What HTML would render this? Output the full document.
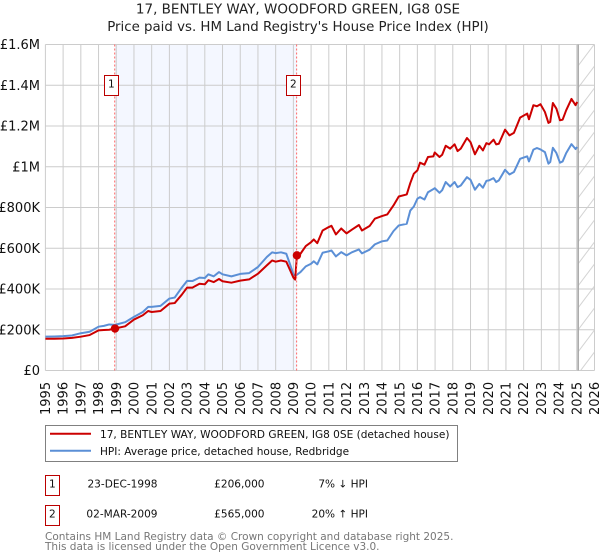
<!DOCTYPE html>
<html lang="en">
<head>
<meta charset="utf-8">
<title>17, Bentley Way price chart</title>
<style>
html,body{margin:0;padding:0;background:#fff;}
body{width:600px;height:560px;overflow:hidden;}
svg{display:block;font-family:"DejaVu Sans","Liberation Sans",sans-serif;}
</style>
</head>
<body>
<svg id="chart" xmlns="http://www.w3.org/2000/svg" width="600" height="560" viewBox="0 0 600 560">
  <defs>
    <pattern id="hatch" width="16.5" height="22" patternUnits="userSpaceOnUse" x="578" y="0">
      <line x1="0" y1="22" x2="16.5" y2="0" stroke="#d4d4d4" stroke-width="1"/>
    </pattern>
  </defs>
  <rect width="600" height="560" fill="#fff"/>
  <text x="298" y="13.5" text-anchor="middle" font-size="13.5" fill="#222">17, BENTLEY WAY, WOODFORD GREEN, IG8 0SE</text>
  <text x="298" y="31" text-anchor="middle" font-size="13.35" fill="#222">Price paid vs. HM Land Registry's House Price Index (HPI)</text>
  <g id="bands"></g>
  <g id="grid"></g>
  <g id="series"></g>
  <g id="sales"></g>
  <g id="ticks"></g>

  <g>
    <rect x="45.5" y="425.5" width="412" height="36" fill="#fff" stroke="#808080" stroke-width="1"/>
    <line x1="50" y1="433.8" x2="91" y2="433.8" stroke="#cc0000" stroke-width="2"/>
    <text x="100" y="437.8" font-size="10.55" fill="#111">17, BENTLEY WAY, WOODFORD GREEN, IG8 0SE (detached house)</text>
    <line x1="50" y1="450.8" x2="91" y2="450.8" stroke="#5b8fd6" stroke-width="2"/>
    <text x="100" y="454.8" font-size="10.55" fill="#111">HPI: Average price, detached house, Redbridge</text>
  </g>

  <g font-size="10.55" fill="#111">
    <rect x="45.5" y="475.5" width="14" height="20" fill="#fff" stroke="#bb0000" stroke-width="1"/>
    <text x="52.3" y="487.3" text-anchor="middle">1</text>
    <text x="157.5" y="487.3" text-anchor="end">23-DEC-1998</text>
    <text x="264.5" y="487.3" text-anchor="end">£206,000</text>
    <text x="368" y="487.3" text-anchor="end">7% ↓ HPI</text>
  </g>
  <g font-size="10.55" fill="#111">
    <rect x="45.5" y="505.5" width="14" height="20" fill="#fff" stroke="#bb0000" stroke-width="1"/>
    <text x="52.3" y="517.3" text-anchor="middle">2</text>
    <text x="157.5" y="517.3" text-anchor="end">02-MAR-2009</text>
    <text x="264.5" y="517.3" text-anchor="end">£565,000</text>
    <text x="368" y="517.3" text-anchor="end">20% ↑ HPI</text>
  </g>
  <text x="45" y="540" font-size="10.5" fill="#777">Contains HM Land Registry data © Crown copyright and database right 2025.</text>
  <text x="45" y="550" font-size="10.5" fill="#777">This data is licensed under the Open Government Licence v3.0.</text>
</svg>
<script>
const yearTicks = [1995,1996,1997,1998,1999,2000,2001,2002,2003,2004,2005,2006,2007,2008,2009,2010,2011,2012,2013,2014,2015,2016,2017,2018,2019,2020,2021,2022,2023,2024,2025,2026];
const priceTicks = [0,200,400,600,800,1000,1200,1400,1600];
const priceTickLabels = ['£0','£200K','£400K','£600K','£800K','£1M','£1.2M','£1.4M','£1.6M'];
const dates = [1995,1995.5,1996,1996.5,1997,1997.5,1998,1998.3,1998.6,1998.93,1999.5,2000,2000.5,2000.8,2001,2001.5,2002,2002.3,2002.7,2003,2003.3,2003.7,2004,2004.2,2004.5,2004.8,2005,2005.5,2006,2006.5,2007,2007.5,2007.8,2008,2008.3,2008.6,2008.8,2009,2009.1,2009.2,2009.4,2009.7,2010,2010.15,2010.35,2010.65,2011,2011.15,2011.4,2011.7,2012,2012.3,2012.7,2012.87,2013.3,2013.6,2014,2014.3,2014.65,2014.95,2015.4,2015.6,2015.8,2016,2016.15,2016.4,2016.6,2016.9,2016.98,2017.25,2017.4,2017.6,2017.85,2018.1,2018.27,2018.45,2018.8,2019,2019.25,2019.5,2019.7,2019.9,2020.05,2020.3,2020.45,2020.6,2020.95,2021.2,2021.45,2021.8,2022.2,2022.3,2022.55,2022.75,2022.95,2023.2,2023.4,2023.5,2023.65,2023.85,2024.05,2024.2,2024.4,2024.7,2024.93,2025.02];
const hpiValues = [166,167,169,172,183,190,215,219,226,224,237,263,287,312,312,317,353,358,407,440,439,456,454,472,462,483,472,462,474,478,508,557,580,576,580,573,524,472,467,470,483,511,524,536,521,578,585,589,560,581,565,580,594,575,593,619,634,638,684,712,720,785,805,843,851,839,875,890,895,872,885,925,903,925,900,908,949,936,887,916,897,931,933,944,925,933,985,962,974,1039,1051,1026,1084,1092,1085,1072,1015,1023,1093,1067,1020,1026,1067,1111,1087,1097];
const paidValues = [156,156,157,160,166,174,197,199,200,206,217,250,271,292,287,292,328,331,372,407,407,426,423,443,434,449,438,431,441,447,475,516,540,534,540,534,495,456,446,565,573,611,630,643,625,687,704,710,668,697,673,691,714,687,709,745,758,766,810,854,864,920,966,982,1020,1010,1048,1051,1070,1048,1059,1103,1089,1110,1077,1089,1141,1121,1061,1103,1080,1116,1110,1133,1110,1113,1182,1154,1166,1241,1261,1233,1302,1297,1307,1269,1215,1220,1313,1285,1228,1231,1277,1333,1302,1318];
const saleDates = [1998.93,2009.2];
const salePrices = [206,565];
const saleLabels = ['1','2'];
const dataEndYear = 2025.08;

const NS = 'http://www.w3.org/2000/svg';
const X0 = 45.4, X1 = 594.5, Y0 = 370.5, Y1 = 44.5;
const xScale = year => X0 + (year - 1995) * (X1 - X0) / (2026 - 1995);
const yScale = k => Y0 - k * (Y0 - Y1) / 1600;

function mk(tag, attrs, parent) {
  const el = document.createElementNS(NS, tag);
  for (const k in attrs) el.setAttribute(k, attrs[k]);
  parent.appendChild(el);
  return el;
}
const bands = document.getElementById('bands');
const grid = document.getElementById('grid');
const seriesG = document.getElementById('series');
const salesG = document.getElementById('sales');
const ticksG = document.getElementById('ticks');

const band = mk('rect', {x: xScale(saleDates[0]), y: Y1, width: xScale(saleDates[1]) - xScale(saleDates[0]), height: Y0 - Y1, fill: '#f4f7ff'}, bands);



const hatch = mk('rect', {x: xScale(dataEndYear), y: Y1, width: X1 - xScale(dataEndYear), height: Y0 - Y1, fill: 'url(#hatch)'}, bands);



yearTicks.forEach(year => {
  const x = xScale(year);
  const line = mk('line', {x1: x, y1: Y1, x2: x, y2: Y0, stroke: '#cccccc', 'stroke-width': 1}, grid);
  
  
  const label = mk('text', {transform: 'translate(' + (x + 4.6) + ',415) rotate(-90)', 'font-size': 13, fill: '#111'}, ticksG);
  
  
  label.textContent = String(year);
});

priceTicks.forEach((k, i) => {
  const y = yScale(k);
  const line = mk('line', {x1: X0, y1: y, x2: X1, y2: y, stroke: '#cccccc', 'stroke-width': 1}, grid);
  
  
  const label = mk('text', {x: 40, y: y + 4.7, 'text-anchor': 'end', 'font-size': 13, fill: '#111'}, ticksG);
  
  
  label.textContent = priceTickLabels[i];
});

const endLine = mk('line', {x1: xScale(dataEndYear), y1: Y1, x2: xScale(dataEndYear), y2: Y0, stroke: '#a8a8a8', 'stroke-width': 1.5}, grid);



function pathFor(values) {
  return values.map((v, i) => (i ? 'L' : 'M') + xScale(dates[i]).toFixed(2) + ' ' + yScale(v).toFixed(2)).join(' ');
}
const hpiLine = mk('path', {d: pathFor(hpiValues), fill: 'none', stroke: '#5b8fd6', 'stroke-width': 2, 'stroke-linejoin': 'round'}, seriesG);


const paidLine = mk('path', {d: pathFor(paidValues), fill: 'none', stroke: '#cc0000', 'stroke-width': 2, 'stroke-linejoin': 'round'}, seriesG);



saleDates.forEach((d, i) => {
  const x = xScale(d);
  const drop = mk('line', {x1: x - 0.3, y1: Y1, x2: x - 0.3, y2: Y0, stroke: '#ff6666', 'stroke-width': 1, 'stroke-dasharray': '2 2'}, salesG);
  
  
  const dot = mk('circle', {cx: x, cy: yScale(salePrices[i]), r: 4.2, fill: '#cc0000'}, salesG);
  
  
  const left = Math.round(x - 10.2) - 0.5;
  const badge = mk('rect', {x: left, y: 75.5, width: 14, height: 20, fill: '#fff', stroke: '#bb0000', 'stroke-width': 1}, salesG);
  
  
  const num = mk('text', {x: left + 6.8, y: 87.3, 'text-anchor': 'middle', 'font-size': 10.55, fill: '#111'}, salesG);
  
  
  num.textContent = saleLabels[i];
});
</script>
</body>
</html>
